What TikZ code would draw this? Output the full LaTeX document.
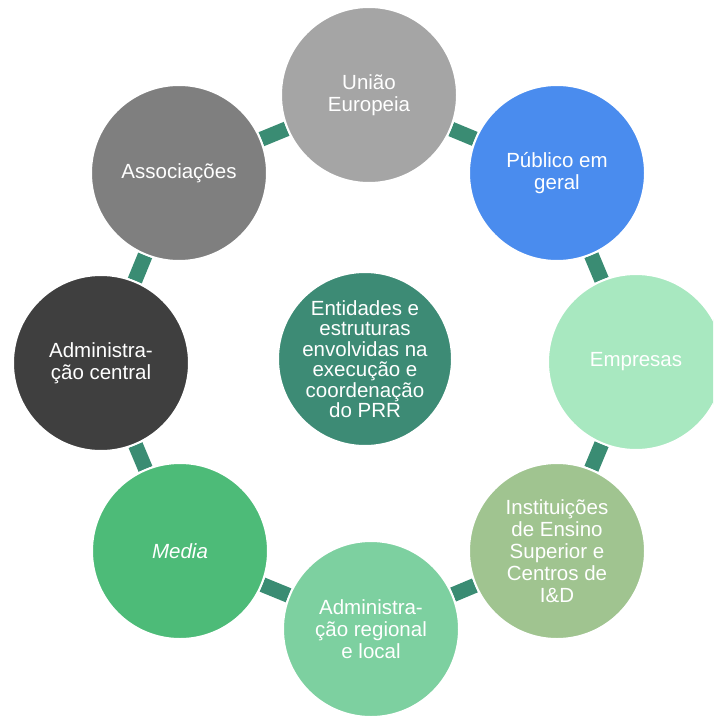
\documentclass[tikz,border=0pt]{standalone}
\usepackage{fontspec}
\setmainfont{Liberation Sans}
\usetikzlibrary{backgrounds}
\definecolor{cue}{HTML}{A5A5A5}
\definecolor{cpub}{HTML}{4A8CEE}
\definecolor{cemp}{HTML}{A8E8C0}
\definecolor{cins}{HTML}{A0C490}
\definecolor{creg}{HTML}{7DD0A0}
\definecolor{cmed}{HTML}{4DBB78}
\definecolor{cadc}{HTML}{3F3F3F}
\definecolor{cass}{HTML}{7F7F7F}
\definecolor{cctr}{HTML}{3D8B75}
\definecolor{cbar}{HTML}{3A8C73}
\begin{document}
\begin{tikzpicture}[x=1pt,y=-1pt,
  ring/.style={circle, minimum size=176pt, inner sep=0pt, draw=white, line width=2pt,
    text=white, align=center, font=\fontsize{20.5}{22}\selectfont},
  hub/.style={ring, minimum size=174pt, font=\fontsize{20.5}{20.5}\selectfont},
  link/.style={draw=cbar, line width=15pt}]
\useasboundingbox (0,0) rectangle (713,717);
\clip (0,0) rectangle (713,717);
\node[ring, fill=cue]  (ue)  at (369,95)  {União\\Europeia};
\node[ring, fill=cpub] (pub) at (557,173) {Público em\\geral};
\node[ring, fill=cemp] (emp) at (636,362) {Empresas};
\node[ring, fill=cins] (ins) at (557,551) {Instituições\\de Ensino\\Superior e\\Centros de\\I\&D};
\node[ring, fill=creg] (reg) at (371,629) {Administra-\\ção regional\\e local};
\node[ring, fill=cmed] (med) at (180,551) {\itshape Media};
\node[ring, fill=cadc] (adc) at (101,363) {Administra-\\ção central};
\node[ring, fill=cass] (ass) at (179,173) {Associações};
\node[hub, fill=cctr]  (ctr) at (365,359) {Entidades e\\estruturas\\envolvidas na\\execução e\\coordenação\\do PRR};
\begin{scope}[on background layer]
\draw[link] (ue) -- (pub);
\draw[link] (pub) -- (emp);
\draw[link] (emp) -- (ins);
\draw[link] (ins) -- (reg);
\draw[link] (reg) -- (med);
\draw[link] (med) -- (adc);
\draw[link] (adc) -- (ass);
\draw[link] (ass) -- (ue);
\end{scope}
\end{tikzpicture}
\end{document}
